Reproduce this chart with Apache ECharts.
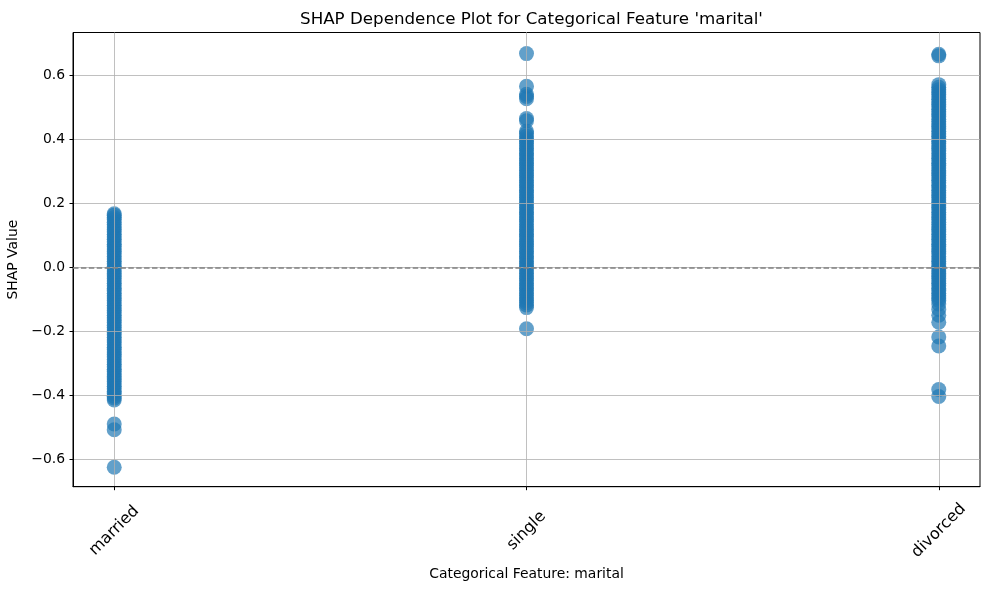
<!DOCTYPE html>
<html>
<head>
<meta charset="utf-8">
<script src="https://cdn.jsdelivr.net/npm/echarts@6/dist/echarts.min.js"></script>
<style>
  html, body { margin: 0; padding: 0; background: #fff; }
  #chart { width: 989px; height: 590px; }
</style>
</head>
<body>
<div id="chart"></div>
<script>
// categories on the x axis (positions 0, 1, 2)
const categories = ["married", "single", "divorced"];
const xTicks = [0, 1, 2];
const yTicks = [-0.6, -0.4, -0.2, 0, 0.2, 0.4, 0.6];

// SHAP values, one list per category
const marriedShap = [
    0.167, 0.163, 0.156, 0.149, 0.141, 0.134, 0.126, 0.118, 0.111, 0.103,
    0.095, 0.088, 0.08, 0.072, 0.065, 0.057, 0.049, 0.042, 0.034, 0.026,
    0.019, 0.011, 0.003, -0.004, -0.012, -0.02, -0.027, -0.035, -0.043, -0.05,
    -0.058, -0.066, -0.073, -0.081, -0.089, -0.096, -0.104, -0.112, -0.119, -0.127,
    -0.135, -0.142, -0.15, -0.158, -0.165, -0.173, -0.181, -0.188, -0.196, -0.204,
    -0.211, -0.219, -0.227, -0.234, -0.242, -0.25, -0.257, -0.265, -0.273, -0.28,
    -0.288, -0.296, -0.303, -0.311, -0.319, -0.326, -0.334, -0.342, -0.349, -0.357,
    -0.365, -0.372, -0.38, -0.388, -0.395, -0.403, -0.409, -0.415,
    -0.49, -0.508, -0.625
];
const singleShap = [
    0.668, 0.566, 0.541, 0.534, 0.527, 0.465, 0.458, 0.425, 0.418, 0.41,
    0.402, 0.395, 0.387, 0.379, 0.372, 0.364, 0.356, 0.349, 0.341, 0.333,
    0.326, 0.318, 0.31, 0.303, 0.295, 0.287, 0.28, 0.272, 0.264, 0.257,
    0.249, 0.241, 0.234, 0.226, 0.218, 0.211, 0.203, 0.195, 0.188, 0.18,
    0.172, 0.165, 0.157, 0.149, 0.142, 0.134, 0.126, 0.119, 0.111, 0.103,
    0.096, 0.088, 0.08, 0.073, 0.065, 0.057, 0.05, 0.042, 0.034, 0.027,
    0.019, 0.011, 0.004, -0.004, -0.012, -0.019, -0.027, -0.035, -0.042, -0.05,
    -0.058, -0.065, -0.073, -0.081, -0.088, -0.096, -0.104, -0.111, -0.118, -0.126,
    -0.192
];
const divorcedShap = [
    0.666, 0.661, 0.571, 0.563, 0.555, 0.548, 0.54, 0.532, 0.525, 0.517,
    0.509, 0.502, 0.494, 0.486, 0.479, 0.471, 0.463, 0.456, 0.448, 0.44,
    0.433, 0.425, 0.417, 0.41, 0.402, 0.394, 0.387, 0.379, 0.371, 0.364,
    0.356, 0.348, 0.341, 0.333, 0.325, 0.318, 0.31, 0.302, 0.295, 0.287,
    0.279, 0.272, 0.264, 0.256, 0.249, 0.241, 0.233, 0.226, 0.218, 0.21,
    0.203, 0.195, 0.187, 0.18, 0.172, 0.164, 0.157, 0.149, 0.141, 0.134,
    0.126, 0.118, 0.111, 0.103, 0.095, 0.088, 0.08, 0.072, 0.065, 0.057,
    0.049, 0.042, 0.034, 0.026, 0.019, 0.011, 0.003, -0.004, -0.012, -0.02,
    -0.027, -0.035, -0.043, -0.05, -0.058, -0.066, -0.073, -0.081, -0.089, -0.096,
    -0.104, -0.115, -0.132, -0.15, -0.172, -0.218, -0.246, -0.382, -0.404
];

const points = [];
[marriedShap, singleShap, divorcedShap].forEach((vals, i) => {
    vals.forEach(v => points.push([i, v]));
});

const font = "DejaVu Sans";
const gridLine = { show: true, lineStyle: { color: "#b0b0b0", width: 0.8 } };

const chart = echarts.init(document.getElementById("chart"));
chart.setOption({
    animation: false,
    textStyle: { fontFamily: font, color: "#000" },
    title: {
        text: "SHAP Dependence Plot for Categorical Feature 'marital'",
        left: 526.5, top: 6, textAlign: "center",
        textStyle: { fontFamily: font, fontSize: 16.7, fontWeight: "normal", color: "#000" }
    },
    grid: {
        left: 73, right: 9, top: 32.5, bottom: 103.3,
        outerBoundsMode: "none", containLabel: false,
        show: true, borderColor: "#000", borderWidth: 1, backgroundColor: "transparent"
    },
    xAxis: {
        type: "value", min: -0.1, max: 2.1, z: 3,
        name: "Categorical Feature: marital", nameLocation: "middle", nameGap: 78,
        nameTextStyle: { fontFamily: font, fontSize: 13.9, color: "#000" },
        axisLine: { show: true, onZero: false, lineStyle: { color: "#000", width: 1 } },
        axisTick: { show: true, length: 3.5, customValues: xTicks, lineStyle: { color: "#000" } },
        axisLabel: {
            customValues: xTicks, rotate: 45, margin: 44,
            align: "center", verticalAlign: "middle",
            fontFamily: font, fontSize: 16, color: "#000",
            formatter: v => categories[Math.round(v)] || ""
        },
        splitLine: gridLine
    },
    yAxis: {
        type: "value", min: -0.686, max: 0.734, z: 3,
        name: "SHAP Value", nameLocation: "middle", nameGap: 47,
        nameTextStyle: { fontFamily: font, fontSize: 13.9, color: "#000" },
        axisLine: { show: true, onZero: false, lineStyle: { color: "#000", width: 1 } },
        axisTick: { show: true, length: 3.5, customValues: yTicks, lineStyle: { color: "#000" } },
        axisLabel: {
            customValues: yTicks, margin: 8,
            fontFamily: font, fontSize: 13.9, color: "#000",
            formatter: v => v.toFixed(1).replace("-", "\u2212")
        },
        splitLine: gridLine
    },
    series: [{
        type: "scatter",
        data: points,
        symbolSize: 15,
        itemStyle: { color: "#1f77b4", opacity: 0.7 },
        markLine: {
            silent: true, symbol: "none", z: 5,
            label: { show: false },
            lineStyle: { color: "#808080", width: 1.5, type: [5.5, 2.4] },
            data: [{ yAxis: 0 }]
        }
    }]
});
window.addEventListener("resize", () => chart.resize());
</script>
</body>
</html>
